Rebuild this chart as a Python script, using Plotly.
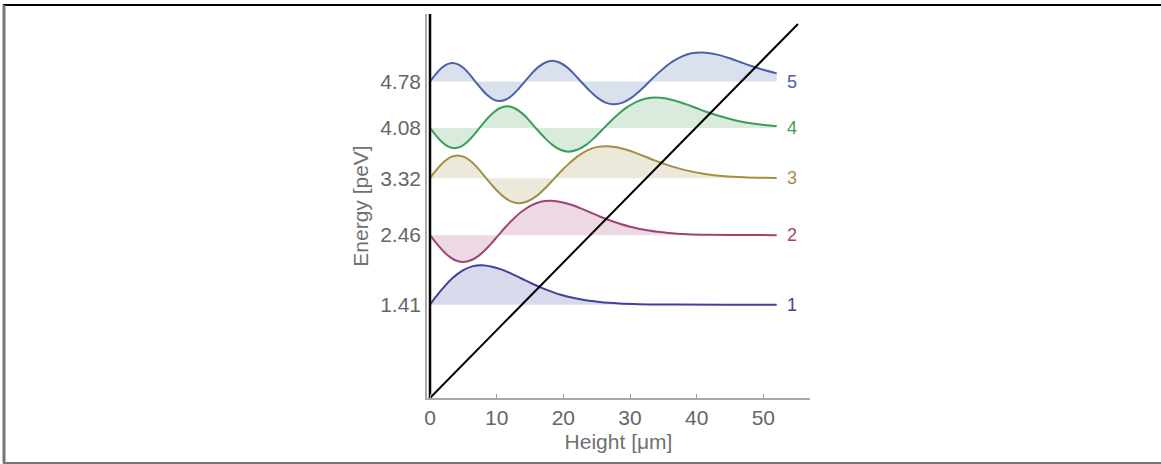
import plotly.graph_objects as go

# ---- data ----
levels = [1, 2, 3, 4, 5]
energies = [1.41, 2.46, 3.32, 4.08, 4.78]          # peV
energy_labels = ["1.41", "2.46", "3.32", "4.08", "4.78"]

z1 = [0, 0.99, 1.98, 3.39, 4.92, 6.33, 7.74, 9.32, 10.79, 12.26, 13.72, 15.19, 16.66, 19.59,
      22.53, 25.46, 28.4, 31.33, 37.2, 44, 52]
psi1 = [0, 0.131, 0.252, 0.401, 0.516, 0.578, 0.596, 0.574, 0.529, 0.466, 0.395, 0.323, 0.258,
        0.150, 0.080, 0.039, 0.017, 0.007, 0.001, 0, 0]

z2 = [0, 1.23, 2.47, 3.70, 4.93, 6.25, 7.60, 8.94, 10.27,
      11.26, 12.26, 13.67, 15.19, 16.60, 18.02, 19.59, 21.06, 22.53, 24.00, 25.47, 26.93,
      29.87, 32.80, 35.74, 38.67, 41.61, 47.48, 52]
psi2 = [0, -0.155, -0.287, -0.376, -0.407, -0.376, -0.287, -0.155, 0,
        0.115, 0.220, 0.350, 0.451, 0.505, 0.520, 0.501, 0.462, 0.407, 0.345, 0.282, 0.225,
        0.131, 0.070, 0.034, 0.015, 0.006, 0.001, 0]

z3 = [0, 1.03, 2.06, 3.09, 4.12, 5.19, 6.26, 7.34, 8.41,
      9.65, 10.88, 12.11, 13.34, 14.67, 16.01, 17.35, 18.69,
      19.67, 20.67, 22.08, 23.60, 25.01, 26.43, 28.01, 29.47, 30.94, 32.41, 33.88, 35.35,
      38.28, 41.21, 44.15, 47.08, 50.02, 52]
psi3 = [0, 0.132, 0.243, 0.317, 0.343, 0.317, 0.243, 0.132, 0,
        -0.144, -0.267, -0.349, -0.378, -0.349, -0.267, -0.144, 0,
        0.106, 0.205, 0.325, 0.419, 0.469, 0.483, 0.466, 0.429, 0.378, 0.320, 0.261, 0.209,
        0.122, 0.065, 0.031, 0.014, 0.006, 0.004]

z4 = [0, 0.92, 1.83, 2.75, 3.66, 4.61, 5.55, 6.49, 7.43,
      8.46, 9.49, 10.52, 11.55, 12.62, 13.69, 14.77, 15.84,
      17.08, 18.31, 19.54, 20.77, 22.10, 23.45, 24.78, 26.12,
      27.10, 28.10, 29.51, 31.04, 32.44, 33.86, 35.44, 36.91, 38.37, 39.84, 41.31, 42.78,
      45.71, 48.65, 51.58, 52]
psi4 = [0, -0.117, -0.217, -0.283, -0.306, -0.283, -0.217, -0.117, 0,
        0.125, 0.230, 0.300, 0.326, 0.300, 0.230, 0.125, 0,
        -0.137, -0.253, -0.331, -0.359, -0.331, -0.253, -0.137, 0,
        0.101, 0.194, 0.309, 0.397, 0.445, 0.459, 0.443, 0.407, 0.359, 0.304, 0.248, 0.199,
        0.116, 0.061, 0.030, 0.027]

z5 = [0, 0.84, 1.68, 2.52, 3.36, 4.22, 5.08, 5.94, 6.79,
      7.71, 8.62, 9.54, 10.46, 11.40, 12.34, 13.28, 14.22,
      15.25, 16.28, 17.31, 18.34, 19.41, 20.49, 21.56, 22.64,
      23.87, 25.10, 26.33, 27.57, 28.89, 30.24, 31.57, 32.91,
      33.89, 34.89, 36.30, 37.83, 39.24, 40.65, 42.23, 43.70, 45.17, 46.63, 48.10, 49.57, 52]
psi5 = [0, 0.108, 0.199, 0.259, 0.281, 0.259, 0.199, 0.108, 0,
        -0.112, -0.208, -0.272, -0.294, -0.272, -0.208, -0.112, 0,
        0.120, 0.221, 0.288, 0.312, 0.288, 0.221, 0.120, 0,
        -0.131, -0.243, -0.318, -0.344, -0.318, -0.243, -0.131, 0,
        0.097, 0.186, 0.296, 0.381, 0.426, 0.440, 0.425, 0.391, 0.344, 0.291, 0.238, 0.190, 0.123]

potential_z = [0, 55.2]
potential_e = [0, 5.65]
wall_z = [0, 0]
wall_e = [0, 5.8]

x_ticks = [0, 10, 20, 30, 40, 50]

# ---- styling ----
line_colors = ["#40409f", "#a34274", "#a38f44", "#3d9c57", "#4863a8"]
fill_colors = ["rgba(64,64,159,0.2)", "rgba(163,66,116,0.2)", "rgba(163,143,68,0.2)",
               "rgba(61,156,87,0.2)", "rgba(72,99,168,0.2)"]
FONT = "Liberation Sans, Arial, sans-serif"

zs = [z1, z2, z3, z4, z5]
psis = [psi1, psi2, psi3, psi4, psi5]

fig = go.Figure()
for i, (z, p, E) in enumerate(zip(zs, psis, energies)):
    fig.add_trace(go.Scatter(x=[z[0], z[-1]], y=[E, E], mode="lines",
                             line=dict(width=0, color=fill_colors[i]),
                             hoverinfo="skip", showlegend=False))
    fig.add_trace(go.Scatter(x=z, y=[E + v for v in p], mode="lines",
                             line=dict(color=line_colors[i], width=2, shape="spline", smoothing=1),
                             fill="tonexty", fillcolor=fill_colors[i],
                             showlegend=False))

fig.add_trace(go.Scatter(x=wall_z, y=wall_e, mode="lines",
                         line=dict(color="black", width=2.5), showlegend=False))
fig.add_trace(go.Scatter(x=potential_z, y=potential_e, mode="lines",
                         line=dict(color="black", width=2), showlegend=False))

for i, (n, E) in enumerate(zip(levels, energies)):
    fig.add_annotation(x=53.3, y=E, text=str(n), showarrow=False, xanchor="left",
                       yanchor="middle", font=dict(size=18, color=line_colors[i], family=FONT))

W, H = 1161, 464
L, R, T, B = 427, 810, 14, 398
pw, ph = R - L, B - T

def px(xp):
    return (xp - L) / pw

def py(yp):
    return (B - yp) / ph

shapes = [
    dict(type="line", xref="paper", yref="paper", x0=px(3), x1=px(1161), y0=py(5), y1=py(5),
         line=dict(color="black", width=2)),
    dict(type="line", xref="paper", yref="paper", x0=px(4), x1=px(4), y0=py(5), y1=py(463),
         line=dict(color="#777777", width=3)),
    dict(type="line", xref="paper", yref="paper", x0=px(3), x1=px(1161), y0=py(463), y1=py(463),
         line=dict(color="#777777", width=2)),
]

fig.update_layout(
    width=W, height=H,
    margin=dict(l=L, r=W - R, t=T, b=H - B, pad=0),
    plot_bgcolor="white", paper_bgcolor="white",
    font=dict(family=FONT, color="#666666", size=21),
    shapes=shapes,
    xaxis=dict(range=[-0.45, 57.0], tickvals=x_ticks, ticks="inside", ticklen=4,
               tickcolor="#999999", showgrid=False, zeroline=False,
               showline=True, linecolor="#aaaaaa", linewidth=1.5,
               tickfont=dict(size=21, color="#666666", family=FONT),
               title=dict(text="Height [μm]", font=dict(size=21, color="#707070", family=FONT),
                          standoff=6)),
    yaxis=dict(range=[0, 5.8], tickvals=energies, ticktext=energy_labels, ticks="",
               showgrid=False, zeroline=False, showline=True, linecolor="#aaaaaa", linewidth=1.5,
               tickfont=dict(size=21, color="#666666", family=FONT),
               title=dict(text="Energy [peV]", font=dict(size=21, color="#707070", family=FONT),
                          standoff=6)),
)

fig.write_html("out.html", config={"displayModeBar": False},
               post_script="document.body.style.margin='0px';")
